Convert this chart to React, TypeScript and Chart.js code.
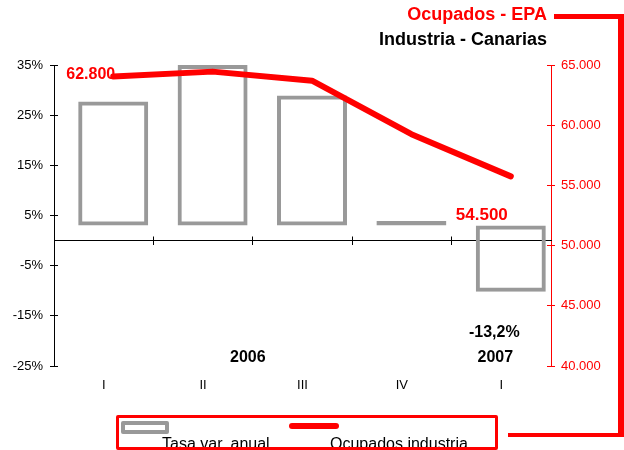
import React, { useEffect, useRef } from "react";
import { Chart, registerables } from "chart.js";

Chart.register(...registerables);

// ---- data ----
const QUARTERS = ["I", "II", "III", "IV", "I"];
const YEARS = ["2006", "2007"];
const RATE = [24.7, 32.0, 25.9, 0.9, -13.2]; // Tasa var. anual (%)
const EMPLOYED = [62800, 63200, 62450, 58000, 54500]; // Ocupados industria
const PCT_RANGE = [-25, 35];
const PCT_STEP = 10;
const EMP_RANGE = [40000, 65000];
const EMP_STEP = 5000;

// offsets of the data layer against the printed axes in the original picture
const PCT_SHIFT = 3;
const EMP_SHIFT = 1250;
const X_SHIFT = 0.0956;

const FONT = "'Liberation Sans', Arial, Helvetica, sans-serif";
const RED = "#FF0000";
const GREY = "#999999";
const TICK = 4;

const fmtThousands = (v: number) =>
  Math.round(v).toString().replace(/\B(?=(\d{3})+(?!\d))/g, ".");
const fmtRate = (v: number) => v.toFixed(1).replace(".", ",") + "%";

const align = (p: number) => Math.round(p - 0.5) + 0.5;

const annotations = {
  id: "annotations",
  beforeDatasetsDraw(chart: any) {
    const { ctx, scales, chartArea } = chart;
    const xd = scales.x;
    const yd = scales.y;
    const y2 = scales.y2;
    const xa = scales.xa;
    const last = EMPLOYED.length - 1;
    ctx.save();
    ctx.textBaseline = "alphabetic";
    ctx.font = `bold 16px ${FONT}`;
    ctx.fillStyle = RED;
    ctx.textAlign = "right";
    ctx.fillText(
      fmtThousands(EMPLOYED[0]),
      xd.getPixelForValue(0) + 2,
      y2.getPixelForValue(EMPLOYED[0]) + 3
    );
    ctx.font = `bold 17px ${FONT}`;
    ctx.fillText(
      fmtThousands(EMPLOYED[last]),
      xd.getPixelForValue(last) - 3,
      yd.getPixelForValue(0) - 6
    );
    ctx.fillStyle = "#000";
    ctx.textAlign = "center";
    ctx.font = `bold 16px ${FONT}`;
    ctx.fillText(
      fmtRate(RATE[last]),
      xa.getPixelForValue(last) - 7,
      yd.getPixelForValue(RATE[last]) + 45
    );
    ctx.fillText(
      YEARS[0],
      (xa.getPixelForValue(0) + xa.getPixelForValue(3)) / 2 - 5,
      chartArea.bottom - 4
    );
    ctx.fillText(YEARS[1], xa.getPixelForValue(4) - 6, chartArea.bottom - 4);
    ctx.restore();
  },
  afterDraw(chart: any) {
    // inner halves of the crossing tick marks
    const { ctx, scales, chartArea } = chart;
    const yl = scales.yl;
    const yr = scales.yr;
    const xa = scales.xa;
    ctx.save();
    ctx.lineWidth = 1;
    ctx.strokeStyle = "#000";
    ctx.beginPath();
    yl.ticks.forEach((t: any) => {
      const y = align(yl.getPixelForValue(t.value));
      ctx.moveTo(chartArea.left, y);
      ctx.lineTo(chartArea.left + TICK, y);
    });
    const y0 = align(yl.getPixelForValue(0));
    for (let i = 0; i < QUARTERS.length - 1; i++) {
      const x = align((xa.getPixelForValue(i) + xa.getPixelForValue(i + 1)) / 2);
      ctx.moveTo(x, y0);
      ctx.lineTo(x, y0 - TICK);
    }
    ctx.stroke();
    ctx.strokeStyle = RED;
    ctx.beginPath();
    yr.ticks.forEach((t: any) => {
      const y = align(yr.getPixelForValue(t.value));
      ctx.moveTo(chartArea.right, y);
      ctx.lineTo(chartArea.right - TICK, y);
    });
    ctx.stroke();
    ctx.restore();
  },
};

export default function App() {
  const canvasRef = useRef<HTMLCanvasElement | null>(null);

  useEffect(() => {
    const canvas = canvasRef.current;
    if (!canvas) return;
    Chart.defaults.font.family = FONT;
    Chart.defaults.font.size = 13;
    Chart.defaults.color = "#000";

    const chart = new Chart(canvas, {
      type: "bar",
      data: {
        datasets: [
          {
            type: "line",
            label: "Ocupados industria",
            data: EMPLOYED.map((v, i) => ({ x: i, y: v })),
            xAxisID: "x",
            yAxisID: "y2",
            borderColor: RED,
            backgroundColor: RED,
            borderWidth: 6,
            borderCapStyle: "round",
            borderJoinStyle: "round",
            pointRadius: 0,
            tension: 0,
            fill: false,
            order: 0,
          } as any,
          {
            type: "bar",
            label: "Tasa var. anual",
            data: RATE.map((v, i) => ({ x: i, y: v })),
            xAxisID: "x",
            yAxisID: "y",
            backgroundColor: "rgba(255,255,255,0)",
            borderColor: GREY,
            borderWidth: 4,
            borderSkipped: false,
            barPercentage: 0.704,
            categoryPercentage: 1,
            order: 1,
          } as any,
        ],
      },
      options: {
        responsive: false,
        maintainAspectRatio: false,
        animation: false,
        layout: { padding: { top: 65, left: 0, right: 0, bottom: 0 } },
        plugins: {
          legend: { display: false },
          tooltip: { enabled: false },
          title: { display: false },
        },
        scales: {
          x: {
            type: "linear",
            axis: "x",
            display: false,
            offset: false,
            min: -0.5 - X_SHIFT,
            max: QUARTERS.length - 0.5 - X_SHIFT,
          },
          y: {
            type: "linear",
            axis: "y",
            display: false,
            min: PCT_RANGE[0] - PCT_SHIFT,
            max: PCT_RANGE[1] - PCT_SHIFT,
          },
          y2: {
            type: "linear",
            axis: "y",
            display: false,
            min: EMP_RANGE[0] - EMP_SHIFT,
            max: EMP_RANGE[1] - EMP_SHIFT,
          },
          yl: {
            type: "linear",
            axis: "y",
            position: "left",
            min: PCT_RANGE[0],
            max: PCT_RANGE[1],
            ticks: {
              stepSize: PCT_STEP,
              padding: 7,
              color: "#000",
              font: { size: 13 },
              callback: (v: any) => `${v}%`,
            },
            grid: { drawOnChartArea: false, color: "#000", tickLength: TICK },
            border: { color: "#000", width: 1 },
            afterFit: (s: any) => {
              s.width = 54;
            },
          },
          yr: {
            type: "linear",
            axis: "y",
            position: "right",
            min: EMP_RANGE[0],
            max: EMP_RANGE[1],
            ticks: {
              stepSize: EMP_STEP,
              padding: 6,
              color: RED,
              font: { size: 13 },
              callback: (v: any) => fmtThousands(Number(v)),
            },
            grid: { drawOnChartArea: false, color: RED, tickLength: TICK },
            border: { color: RED, width: 1 },
            afterFit: (s: any) => {
              s.width = 73;
            },
          },
          xc: {
            type: "category",
            axis: "x",
            position: "bottom",
            labels: QUARTERS,
            offset: true,
            grid: { display: false, drawTicks: false },
            border: { display: false },
            ticks: { padding: 12, color: "#000", font: { size: 13 }, maxRotation: 0 },
            afterFit: (s: any) => {
              s.height = 84;
            },
          },
          xa: {
            type: "category",
            axis: "x",
            position: { yl: 0 },
            labels: QUARTERS,
            offset: true,
            grid: {
              offset: true,
              drawOnChartArea: false,
              color: "#000",
              tickLength: TICK,
            },
            border: { color: "#000", width: 1 },
            ticks: { display: false },
          },
        } as any,
      },
      plugins: [annotations],
    });
    return () => chart.destroy();
  }, []);

  const abs = (s: React.CSSProperties): React.CSSProperties => ({
    position: "absolute",
    ...s,
  });

  return (
    <div
      style={{
        position: "absolute",
        left: 0,
        top: 0,
        width: 624,
        height: 450,
        overflow: "hidden",
        background: "#fff",
        fontFamily: FONT,
      }}
    >
      <canvas
        ref={canvasRef}
        width={624}
        height={450}
        style={{ position: "absolute", left: 0, top: 0, width: 624, height: 450 }}
      />
      <div
        style={abs({
          right: 77,
          top: 4,
          font: `bold 18px ${FONT}`,
          lineHeight: "20px",
          color: RED,
          whiteSpace: "nowrap",
        })}
      >
        Ocupados - EPA
      </div>
      <div
        style={abs({
          right: 77,
          top: 29,
          font: `bold 18px ${FONT}`,
          lineHeight: "20px",
          color: "#000",
          whiteSpace: "nowrap",
        })}
      >
        Industria - Canarias
      </div>
      {/* red frame */}
      <div style={abs({ left: 554, top: 14, width: 70, height: 5, background: RED })} />
      <div style={abs({ left: 618, top: 14, width: 6, height: 423, background: RED })} />
      <div style={abs({ left: 508, top: 433, width: 112, height: 4, background: RED })} />
      {/* legend */}
      <div
        style={abs({
          left: 116,
          top: 415,
          width: 382,
          height: 35,
          boxSizing: "border-box",
          border: `3px solid ${RED}`,
          borderRadius: 2,
          overflow: "hidden",
        })}
      >
        <div
          style={abs({
            left: 2,
            top: 3,
            width: 48,
            height: 13,
            boxSizing: "border-box",
            border: `4px solid ${GREY}`,
            borderRadius: 2,
            background: "#fff",
          })}
        />
        <div
          style={abs({
            left: 170,
            top: 5,
            width: 50,
            height: 6,
            borderRadius: 3,
            background: RED,
          })}
        />
        <div
          style={abs({
            left: 43,
            top: 16,
            font: `16px ${FONT}`,
            lineHeight: "20px",
            color: "#000",
            whiteSpace: "nowrap",
          })}
        >
          Tasa var. anual
        </div>
        <div
          style={abs({
            left: 211,
            top: 16,
            font: `16px ${FONT}`,
            lineHeight: "20px",
            color: "#000",
            whiteSpace: "nowrap",
          })}
        >
          Ocupados industria
        </div>
      </div>
    </div>
  );
}
